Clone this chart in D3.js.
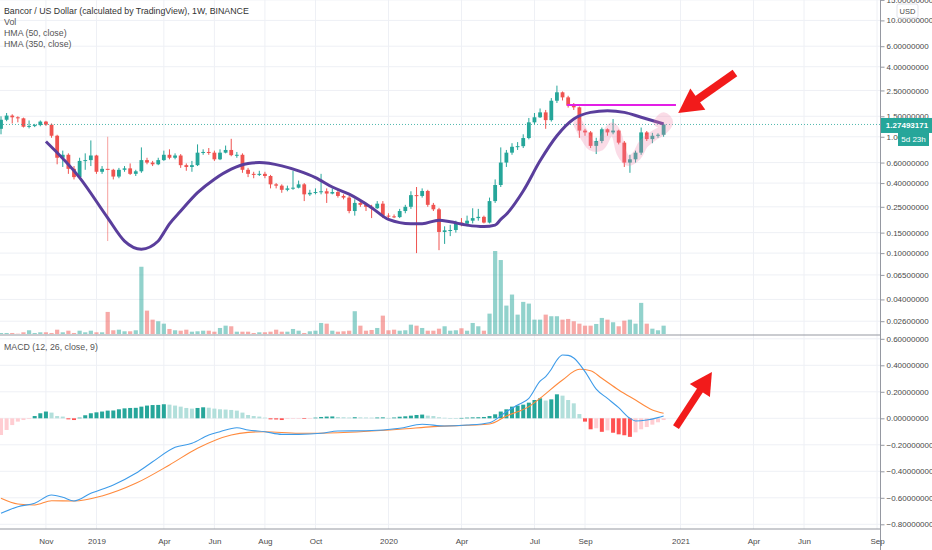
<!DOCTYPE html>
<html><head><meta charset="utf-8">
<script src="https://cdn.jsdelivr.net/npm/d3@7"></script>
<style>
html,body{margin:0;padding:0;background:#fff;overflow:hidden;}
svg{display:block;font-family:"Liberation Sans",Arial,sans-serif;}
</style></head><body>
<svg id="c" width="932" height="550"></svg>
<script>
// ---------- DATA (weekly candles, index 0 = week of 2018-09-10) ----------
const open = [1.17,1.40,1.52,1.47,1.44,1.22,1.24,1.26,1.35,1.27,
 1.02,0.66,0.70,0.53,0.45,0.62,0.63,0.69,0.50,0.53,
 0.52,0.455,0.52,0.535,0.48,0.505,0.63,0.60,0.58,0.63,
 0.70,0.66,0.69,0.57,0.55,0.57,0.73,0.74,0.73,0.64,
 0.73,0.77,0.695,0.70,0.52,0.48,0.47,0.48,0.46,0.39,
 0.38,0.35,0.36,0.365,0.39,0.32,0.33,0.335,0.34,0.325,
 0.335,0.31,0.30,0.23,0.27,0.26,0.25,0.243,0.266,0.21,
 0.207,0.204,0.23,0.25,0.315,0.31,0.342,0.26,0.238,0.152,
 0.157,0.158,0.183,0.179,0.19,0.20,0.205,0.183,0.28,0.385,
 0.60,0.73,0.82,0.83,0.975,1.33,1.47,1.62,1.39,2.04,
 2.41,2.18,1.85,1.79,1.13,1.09,0.835,0.92,1.16,1.09,
 1.13,0.89,0.60,0.64,0.73,1.09,0.955,1.02,1.04];
const high = [1.50,1.60,1.56,1.50,1.46,1.38,1.29,1.38,1.37,1.30,
 1.04,0.76,0.72,0.56,0.66,0.72,0.93,0.70,0.56,1.00,
 0.53,0.54,0.56,0.59,0.52,0.81,0.66,0.62,0.66,0.76,
 0.78,0.72,0.71,0.59,0.62,0.86,0.78,0.80,0.76,0.78,
 0.84,0.96,0.74,0.72,0.54,0.50,0.51,0.50,0.47,0.40,
 0.39,0.38,0.51,0.42,0.40,0.35,0.36,0.48,0.36,0.36,
 0.35,0.32,0.31,0.29,0.29,0.27,0.26,0.28,0.28,0.22,
 0.215,0.24,0.26,0.34,0.37,0.36,0.35,0.27,0.245,0.17,
 0.175,0.19,0.20,0.21,0.243,0.24,0.21,0.30,0.43,0.81,
 0.77,0.88,0.90,1.05,1.45,1.60,1.75,1.70,2.15,2.75,
 2.45,2.25,1.95,1.82,1.17,1.12,0.98,1.20,1.18,1.42,
 1.15,0.92,0.70,0.76,1.20,1.12,1.08,1.07,1.30];
const low = [1.05,1.36,1.30,1.33,1.20,1.18,1.21,1.23,1.24,0.98,
 0.58,0.55,0.48,0.43,0.44,0.52,0.56,0.48,0.48,0.127,
 0.43,0.44,0.50,0.47,0.46,0.49,0.58,0.56,0.57,0.62,
 0.64,0.64,0.54,0.51,0.50,0.56,0.70,0.70,0.62,0.63,
 0.72,0.68,0.66,0.49,0.45,0.44,0.46,0.44,0.36,0.36,
 0.33,0.34,0.35,0.36,0.28,0.31,0.32,0.32,0.27,0.32,
 0.30,0.29,0.22,0.21,0.25,0.23,0.20,0.24,0.20,0.20,
 0.20,0.20,0.22,0.24,0.10,0.30,0.25,0.23,0.106,0.12,
 0.14,0.15,0.17,0.17,0.18,0.19,0.18,0.18,0.27,0.37,
 0.55,0.70,0.77,0.80,0.95,1.28,1.45,1.17,1.35,1.95,
 2.05,1.78,1.70,0.98,1.02,0.80,0.71,0.88,1.02,1.05,
 0.86,0.55,0.49,0.60,0.70,0.92,0.88,0.98,1.00];
const close = [1.40,1.52,1.47,1.44,1.22,1.24,1.26,1.35,1.27,1.02,
 0.66,0.70,0.53,0.45,0.62,0.63,0.69,0.50,0.53,0.52,
 0.455,0.52,0.535,0.48,0.505,0.63,0.60,0.58,0.63,0.70,
 0.66,0.69,0.57,0.55,0.57,0.73,0.74,0.73,0.64,0.73,
 0.77,0.695,0.70,0.52,0.48,0.47,0.48,0.46,0.39,0.38,
 0.35,0.36,0.365,0.39,0.32,0.33,0.335,0.34,0.325,0.335,
 0.31,0.30,0.23,0.27,0.26,0.25,0.243,0.266,0.21,0.207,
 0.204,0.23,0.25,0.315,0.31,0.342,0.26,0.238,0.152,0.157,
 0.158,0.183,0.179,0.19,0.20,0.205,0.183,0.28,0.385,0.60,
 0.73,0.82,0.83,0.975,1.33,1.47,1.62,1.39,2.04,2.41,
 2.18,1.85,1.79,1.13,1.09,0.835,0.92,1.16,1.09,1.13,
 0.89,0.60,0.64,0.73,1.09,0.955,1.02,1.04,1.27493171];
const volume = [10,10,10,3,17,37,10,17,17,10,
 43,17,33,10,33,17,33,17,17,220,
 37,43,27,27,37,670,233,143,127,103,
 50,37,33,43,23,27,33,33,23,60,
 83,77,23,23,23,10,17,17,23,43,
 23,23,50,33,10,27,33,110,103,33,
 23,27,33,227,83,33,40,60,183,37,
 43,33,37,93,83,60,33,33,53,77,
 33,37,57,33,110,77,33,203,827,737,
 283,393,193,320,303,143,143,193,177,177,
 143,150,127,103,83,83,100,160,143,117,
 77,133,143,103,310,103,53,37,83];
// HMA(50, close) read points
const hmaIdx = [8,14,19,22,25,28,29,30,32,35,38,41,44,46,50,53,56,59,62,66,69,73,75,78,80,83,86,88,89,90,93,96,99,102,105,108,111,114,118];
const hmaVal = [0.911,0.446,0.201,0.127,0.108,0.127,0.150,0.178,0.230,0.331,0.432,0.527,0.589,0.600,0.562,0.509,0.446,0.37,0.321,0.246,0.195,0.179,0.179,0.192,0.186,0.174,0.169,0.174,0.195,0.216,0.342,0.621,1.02,1.42,1.62,1.67,1.62,1.47,1.29];
// MACD (12, 26, close, 9)
const macdHist = [-0.126,-0.088,-0.051,-0.025,-0.013,-0.005,0.017,0.038,0.051,0.043,
 0.017,0.013,-0.008,-0.013,0.005,0.023,0.038,0.045,0.051,0.058,
 0.059,0.068,0.075,0.078,0.079,0.088,0.096,0.100,0.101,0.106,
 0.103,0.096,0.088,0.078,0.073,0.078,0.083,0.080,0.073,0.068,
 0.066,0.063,0.058,0.043,0.025,0.017,0.013,0.005,-0.008,-0.009,
 -0.013,-0.005,-0.003,-0.002,-0.005,-0.001,0.005,0.010,0.013,0.014,
 0.010,0.008,0.006,0.008,0.007,0.006,0.005,0.006,0.007,0.003,
 0.006,0.012,0.015,0.020,0.025,0.028,0.020,0.017,0.008,0.004,
 0.002,0.001,0.003,0.005,0.007,0.008,0.010,0.017,0.030,0.051,
 0.068,0.088,0.096,0.103,0.118,0.138,0.151,0.134,0.143,0.181,
 0.171,0.138,0.113,0.032,-0.025,-0.083,-0.075,-0.102,-0.091,-0.109,
 -0.121,-0.128,-0.140,-0.106,-0.083,-0.066,-0.048,-0.030,-0.013];
const macdIdx = [0,3,6,9,11,13,16,20,24,27,31,34,37,39,42,44,47,50,53,57,60,65,71,75,79,83,87,90,92,94,96,97,98,99,100,101,102,104,106,108,110,112,113,115,117,118];
const macdVal = [-0.717,-0.667,-0.641,-0.579,-0.596,-0.624,-0.566,-0.503,-0.415,-0.328,-0.219,-0.189,-0.126,-0.101,-0.071,-0.088,-0.101,-0.121,-0.121,-0.113,-0.096,-0.094,-0.075,-0.045,-0.058,-0.051,-0.033,0.050,0.100,0.151,0.28,0.315,0.37,0.44,0.478,0.475,0.455,0.352,0.22,0.15,0.08,0.00,-0.02,-0.013,0.005,0.017];
const sigIdx = [0,3,6,9,13,18,24,30,35,41,44,47,53,60,71,77,87,90,94,96,100,103,105,107,110,113,116,118];
const sigVal = [-0.604,-0.647,-0.654,-0.622,-0.624,-0.586,-0.491,-0.352,-0.226,-0.126,-0.106,-0.101,-0.113,-0.109,-0.083,-0.063,-0.043,0.017,0.088,0.151,0.289,0.370,0.359,0.302,0.214,0.138,0.063,0.038];
// axes
const priceTicks = [15,10,6,4,2.5,1.5,1.0,0.6,0.4,0.25,0.15,0.1,0.065,0.04,0.026];
const macdTicks = [0.6,0.4,0.2,0,-0.2,-0.4,-0.6,-0.8];
const timeTickIdx = [8,17,29,38,47,56,69,82,95,104,121,134,143,156];
const timeTickLabels = ['Nov','2019','Apr','Jun','Aug','Oct','2020','Apr','Jul','Sep','2021','Apr','Jun','Sep'];
// drawings (in index / price coordinates)
const resistanceIdx = [100.8,120.2], resistancePrice = 1.87;
const brushIdx = [102.8,104.3,105.2,106.7,107.9,108.8,109.7,110.5,111.7,113.2,114.4,116.2,117.7,118.8,118.0,117.1];
const brushPrice = [1.29,0.955,0.836,0.836,1.05,1.20,1.02,0.73,0.62,0.686,0.865,1.02,1.13,1.33,1.47,1.33];
const arrowPriceIdx = [130.7,120.6], arrowPriceVal = [3.53,1.60];
const arrowMacdIdx = [120.2,126.6], arrowMacdVal = [-0.066,0.349];
const lastPrice = 1.27493171;

// ---------- LAYOUT ----------
const PR = 880, P_BOT = 335, M_TOP = 335, M_BOT = 529;
const UP = '#26a69a', DN = '#ef5350', GRID = '#eef0f5', TXT = '#4a4a4a';
const svg = d3.select('#c');
const x = d3.scaleLinear().domain([0,156]).range([1,877]);
const y = d3.scaleLog().domain([0.026,15]).range([321.2,-0.1]);
const yv = d3.scaleLinear().domain([0,d3.max(volume)]).range([334,251]);
const ym = d3.scaleLinear().domain([-0.8,0.6]).range([524.3,338.8]);

const defs = svg.append('defs');
defs.append('clipPath').attr('id','cp').append('rect').attr('x',0).attr('y',0).attr('width',PR).attr('height',P_BOT);
defs.append('clipPath').attr('id','cm').append('rect').attr('x',0).attr('y',M_TOP).attr('width',PR).attr('height',M_BOT-M_TOP);
defs.append('clipPath').attr('id','cma').append('rect').attr('x',PR).attr('y',M_TOP+1).attr('width',60).attr('height',M_BOT-M_TOP-1);

// grid
const g = svg.append('g');
g.selectAll('.vg').data(timeTickIdx).join('line').attr('x1',d=>x(d)).attr('x2',d=>x(d))
 .attr('y1',0).attr('y2',M_BOT).attr('stroke',GRID).attr('stroke-width',1);
g.selectAll('.hg').data(priceTicks).join('line').attr('x1',0).attr('x2',PR)
 .attr('y1',d=>y(d)).attr('y2',d=>y(d)).attr('stroke',GRID);
g.selectAll('.mg').data(macdTicks).join('line').attr('x1',0).attr('x2',PR)
 .attr('y1',d=>ym(d)).attr('y2',d=>ym(d)).attr('stroke',GRID);

// price pane
const pp = svg.append('g').attr('clip-path','url(#cp)');
const idx = d3.range(close.length);
pp.selectAll('.vol').data(idx).join('rect')
 .attr('x',i=>x(i)-2.1).attr('width',4.2)
 .attr('y',i=>yv(volume[i])).attr('height',i=>yv(0)-yv(volume[i]))
 .attr('fill',i=>close[i]>=open[i]?'rgba(38,166,154,0.5)':'rgba(239,83,80,0.5)');
pp.selectAll('.wick').data(idx).join('line')
 .attr('x1',i=>x(i)).attr('x2',i=>x(i)).attr('y1',i=>y(high[i])).attr('y2',i=>y(low[i]))
 .attr('stroke',i=>close[i]>=open[i]?UP:DN).attr('stroke-width',1)
 .attr('stroke-opacity',i=>i===19?0.55:1);
pp.selectAll('.body').data(idx).join('rect')
 .attr('x',i=>x(i)-1.9).attr('width',3.8)
 .attr('y',i=>y(Math.max(open[i],close[i])))
 .attr('height',i=>Math.max(1,Math.abs(y(open[i])-y(close[i]))))
 .attr('fill',i=>close[i]>=open[i]?UP:DN);
// last price dotted line
pp.append('line').attr('x1',0).attr('x2',PR).attr('y1',y(lastPrice)).attr('y2',y(lastPrice))
 .attr('stroke',UP).attr('stroke-dasharray','1,2').attr('stroke-opacity',0.8);
// HMA 50
pp.append('path').datum(hmaIdx.map((d,k)=>[d,hmaVal[k]]))
 .attr('d',d3.line().x(d=>x(d[0])).y(d=>y(d[1])).curve(d3.curveMonotoneX))
 .attr('fill','none').attr('stroke','#5a3e9c').attr('stroke-width',3);
// brush highlight
pp.append('path').datum(brushIdx.map((d,k)=>[d,brushPrice[k]]))
 .attr('d',d3.line().x(d=>x(d[0])).y(d=>y(d[1])).curve(d3.curveCatmullRom))
 .attr('fill','none').attr('stroke','rgba(240,130,170,0.28)').attr('stroke-width',10)
 .attr('stroke-linecap','round').attr('stroke-linejoin','round');
// resistance line
pp.append('line').attr('x1',x(resistanceIdx[0])).attr('x2',x(resistanceIdx[1]))
 .attr('y1',y(resistancePrice)).attr('y2',y(resistancePrice))
 .attr('stroke','#e31ee6').attr('stroke-width',2);

function arrow(sel,x0,y0,x1,y1,w,hl,hw){
  const dx=x1-x0, dy=y1-y0, L=Math.hypot(dx,dy), ux=dx/L, uy=dy/L, px=-uy, py=ux;
  const bx=x1-ux*hl, by=y1-uy*hl;
  sel.append('line').attr('x1',x0).attr('y1',y0).attr('x2',bx+ux*2).attr('y2',by+uy*2)
    .attr('stroke','#f21b1b').attr('stroke-width',w);
  sel.append('polygon').attr('points',[[x1,y1],[bx+px*hw,by+py*hw],[bx-px*hw,by-py*hw]].map(p=>p.join(',')).join(' '))
    .attr('fill','#f21b1b');
}
arrow(svg, x(arrowPriceIdx[0]), y(arrowPriceVal[0]), x(arrowPriceIdx[1]), y(arrowPriceVal[1]), 8, 24, 13);

// MACD pane
const mp = svg.append('g').attr('clip-path','url(#cm)');
mp.selectAll('.hist').data(idx).join('rect')
 .attr('x',i=>x(i)-2).attr('width',4)
 .attr('y',i=>Math.min(ym(0),ym(macdHist[i])))
 .attr('height',i=>Math.max(0.6,Math.abs(ym(macdHist[i])-ym(0))))
 .attr('fill',i=>{const h=macdHist[i], p=i>0?macdHist[i-1]:h;
   if(h>=0) return h>p?'#26a69a':'#b2dfdb';
   return h<p?'#ff5252':'#ffcdd2';});
mp.append('path').datum(sigIdx.map((d,k)=>[d,sigVal[k]]))
 .attr('d',d3.line().x(d=>x(d[0])).y(d=>ym(d[1])).curve(d3.curveMonotoneX))
 .attr('fill','none').attr('stroke','#ff8a3d').attr('stroke-width',1.1);
mp.append('path').datum(macdIdx.map((d,k)=>[d,macdVal[k]]))
 .attr('d',d3.line().x(d=>x(d[0])).y(d=>ym(d[1])).curve(d3.curveMonotoneX))
 .attr('fill','none').attr('stroke','#3d9be9').attr('stroke-width',1.1);
arrow(svg, x(arrowMacdIdx[0]), ym(arrowMacdVal[0]), x(arrowMacdIdx[1]), ym(arrowMacdVal[1]), 7, 22, 12);

// frame lines
svg.append('line').attr('x1',0).attr('x2',PR).attr('y1',P_BOT).attr('y2',P_BOT).attr('stroke','#9598a1').attr('stroke-width',1);
svg.append('line').attr('x1',0).attr('x2',PR).attr('y1',M_BOT).attr('y2',M_BOT).attr('stroke','#9598a1').attr('stroke-width',1);
svg.append('line').attr('x1',PR+0.5).attr('x2',PR+0.5).attr('y1',0).attr('y2',550).attr('stroke','#9598a1').attr('stroke-width',1);

// price axis
const fmt8 = d=> (d<0?'\u2212':'') + Math.abs(d).toFixed(8);
const pa = svg.append('g').attr('transform',`translate(${PR+0.5},0)`)
 .call(d3.axisRight(y).tickValues(priceTicks).tickFormat(fmt8).tickSize(4).tickPadding(2));
const ma = svg.append('g').attr('clip-path','url(#cma)').append('g').attr('transform',`translate(${PR+0.5},0)`)
 .call(d3.axisRight(ym).tickValues(macdTicks).tickFormat(fmt8).tickSize(4).tickPadding(2));
const xa = svg.append('g').attr('transform',`translate(0,${M_BOT})`)
 .call(d3.axisBottom(x).tickValues(timeTickIdx).tickFormat((d,i)=>timeTickLabels[i]).tickSize(0).tickPadding(9));
[pa,ma,xa].forEach(a=>{
  a.select('.domain').remove();
  a.selectAll('line').attr('stroke','#9598a1');
  a.selectAll('text').attr('fill',TXT).attr('font-size','8px').attr('font-family','"Liberation Sans",Arial,sans-serif');
});

// USD label
svg.append('rect').attr('x',897).attr('y',4).attr('width',21).attr('height',14).attr('rx',2)
 .attr('fill','#fff').attr('stroke','#e0e3eb');
svg.append('text').attr('x',907.5).attr('y',14).attr('text-anchor','middle').attr('font-size','7.5px').attr('fill',TXT).text('USD');

// last price label + countdown
const ly = y(lastPrice)+1;
svg.append('rect').attr('x',PR+1).attr('y',ly-7.5).attr('width',52).attr('height',15).attr('fill',UP);
svg.append('text').attr('x',PR+27).attr('y',ly+3).attr('text-anchor','middle').attr('font-size','8px')
 .attr('font-weight','bold').attr('fill','#fff').text(lastPrice.toFixed(8));
svg.append('rect').attr('x',898).attr('y',ly+7.5).attr('width',31).attr('height',13).attr('fill',UP);
svg.append('text').attr('x',913.5).attr('y',ly+17).attr('text-anchor','middle').attr('font-size','8px')
 .attr('fill','#fff').text('5d 23h');

// legends
const legend = ['Bancor / US Dollar (calculated by TradingView), 1W, BINANCE','Vol','HMA (50, close)','HMA (350, close)'];
svg.selectAll('.lg').data(legend).join('text').attr('x',4).attr('y',(d,i)=>14+i*11)
 .attr('font-size','8.8px').attr('fill',(d,i)=>i===0?'#333':'#555').text(d=>d);
svg.append('text').attr('x',4).attr('y',350).attr('font-size','8.8px').attr('fill','#555').text('MACD (12, 26, close, 9)');
</script>
</body></html>
